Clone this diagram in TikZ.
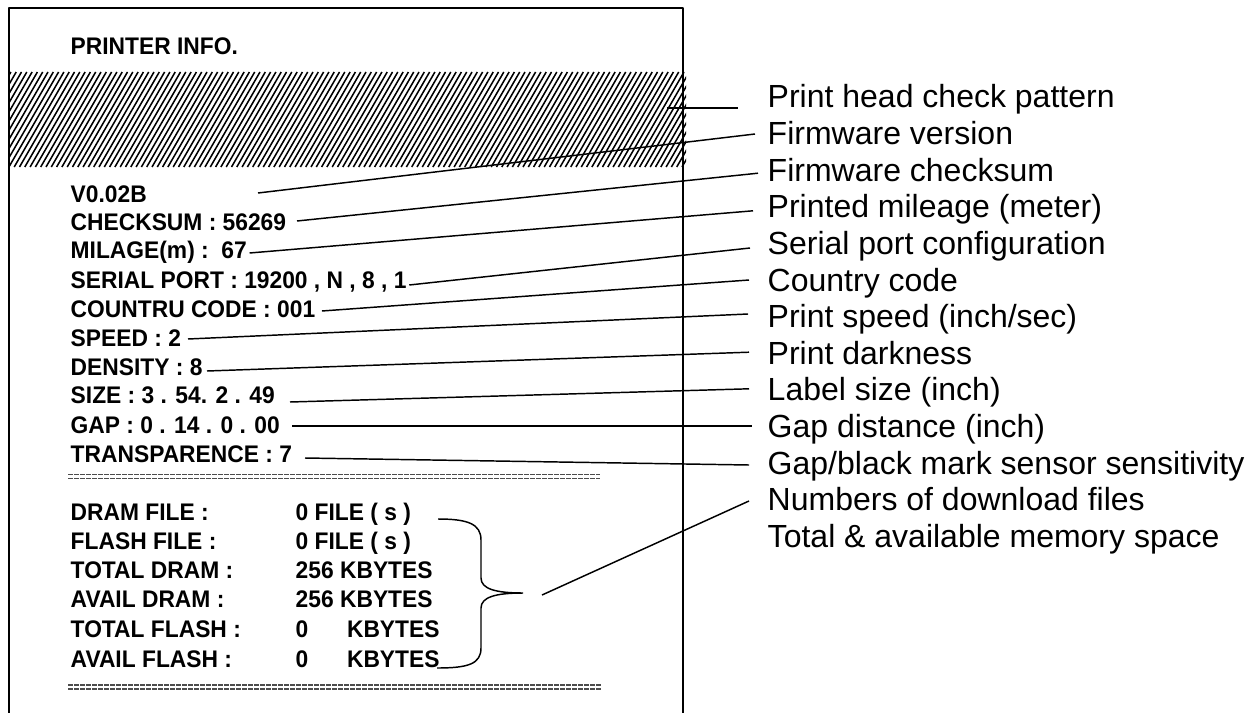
\documentclass[tikz,border=0pt]{standalone}
\usepackage{fontspec}
\setmainfont{Liberation Sans}
\newfontfamily\prtfont{Liberation Sans}[FakeStretch=0.95]
\usetikzlibrary{calc}
\tikzset{
  prt/.style={font=\prtfont\bfseries\fontsize{18pt}{20pt}\selectfont,inner sep=0pt,anchor=base west},
  note/.style={font=\fontsize{24pt}{26pt}\selectfont,inner sep=0pt,anchor=base west},
  sepline/.style={line width=0.8pt,black!70,dash pattern=on 3.6pt off 0.9pt},
  hatchline/.style={line width=1.15pt},
}
\begin{document}
\begin{tikzpicture}[x=0.75pt,y=-0.75pt,line join=bevel,]
  \pgfsetlinewidth{1.1pt}
  \useasboundingbox (0,0) rectangle (1255,713);
%%
\pgfsetcolor{black}
  % Node: paper
  \draw [line width=1.2pt] (9,713) -- (9,8) -- (683,8) -- (683,713);
  \node [prt] (title) at (70,55) {PRINTER INFO.};
  % Node: pattern
\begin{scope}
  \clip (10,72) rectangle (686,167);
  \foreach \hx in {-60,-54.7,...,690}
    \draw [hatchline] (\hx,167) -- ++(55,-95);
\end{scope}
  \coordinate (pat) at (667,108);
  % Node: settings
  \node [prt] (ver) at (70,202) {V0.02B};
  \node [prt] (chk) at (70,230) {CHECKSUM : 56269};
  \node [prt] (mil) at (70,258) {MILAGE(m) :\ \ 67};
  \node [prt] (ser) at (70,288) {SERIAL PORT : 19200\ , N\ , 8\ , 1};
  \node [prt] (cty) at (70,317) {COUNTRU CODE : 001};
  \node [prt] (spd) at (70,346) {SPEED : 2};
  \node [prt] (den) at (70,375) {DENSITY : 8};
  \node [prt] (siz) at (70,403) {SIZE : 3 . 54. 2 . 49};
  \node [prt] (gap) at (70,433) {GAP : 0 . 14 . 0 . 00};
  \node [prt] (trn) at (70,462) {TRANSPARENCE : 7};
  \draw [sepline] (68,474.5) -- (600,474.5);
  \draw [sepline] (68,478.5) -- (600,478.5);
  % Node: memory
  \node [prt] (dramf) at (70,520) {DRAM FILE :};
  \node [prt] (flashf) at (70,549) {FLASH FILE :};
  \node [prt] (totd) at (70,578) {TOTAL DRAM :};
  \node [prt] (avld) at (70,607) {AVAIL DRAM :};
  \node [prt] (totf) at (70,637) {TOTAL FLASH :};
  \node [prt] (avlf) at (70,667) {AVAIL FLASH :};
  \node [prt] (dramfv) at (295,520) {0 FILE ( s )};
  \node [prt] (flashfv) at (295,549) {0 FILE ( s )};
  \node [prt] (totdv) at (295,578) {256 KBYTES};
  \node [prt] (avldv) at (295,607) {256 KBYTES};
  \node [prt] (totfv) at (295,637) {0\hspace{29pt}KBYTES};
  \node [prt] (avlfv) at (295,667) {0\hspace{29pt}KBYTES};
  \draw [sepline] (68,685) -- (601,685);
  \draw [sepline] (68,689) -- (601,689);
  % brace
  \draw (438,519) .. controls (468,519) and (481,524) .. (481,540) -- (481,578)
    .. controls (481,589) and (496,593) .. (523,593)
    .. controls (496,593) and (481,597) .. (481,608) -- (481,648)
    .. controls (481,664) and (468,668) .. (437,668);
  \coordinate (mem) at (542,595);
  % Node: notes
  \node [note] (npat) at (767,108) {Print head check pattern};
  \node [note] (nver) at (767,144.6) {Firmware version};
  \node [note] (nchk) at (767,181.2) {Firmware checksum};
  \node [note] (nmil) at (767,217.8) {Printed mileage (meter)};
  \node [note] (nser) at (767,254.4) {Serial port configuration};
  \node [note] (ncty) at (767,291) {Country code};
  \node [note] (nspd) at (767,327.6) {Print speed (inch/sec)};
  \node [note] (nden) at (767,364.2) {Print darkness};
  \node [note] (nsiz) at (767,400.8) {Label size (inch)};
  \node [note] (ngap) at (767,437.4) {Gap distance (inch)};
  \node [note] (ntrn) at (767,474) {Gap/black mark sensor sensitivity};
  \node [note] (nmem) at (767,510.6) {Numbers of download files};
  \node [note] (nmem2) at (767,547.2) {Total \& available memory space};
  % Edge: pattern -> npat
  \draw (pat) -- ($(npat.base west)+(-29,0)$);
  % Edge: ver -> nver
  \coordinate (ever) at (258,193);
  \draw (ever) -- ($(nver.base west)+(-12,-10.6)$);
  % Edge: chk -> nchk
  \coordinate (echk) at (297,221);
  \draw (echk) -- ($(nchk.base west)+(-9,-8)$);
  % Edge: mil -> nmil
  \coordinate (emil) at ($(mil.base east)+(2,-5)$);
  \draw (emil) -- ($(nmil.base west)+(-14,-7)$);
  % Edge: ser -> nser
  \coordinate (eser) at ($(ser.base east)+(2,-3)$);
  \draw (eser) -- ($(nser.base west)+(-17,-6.4)$);
  % Edge: cty -> ncty
  \coordinate (ecty) at ($(cty.base east)+(6,-6)$);
  \draw (ecty) -- ($(ncty.base west)+(-18,-11)$);
  % Edge: spd -> nspd
  \coordinate (espd) at (188,339);
  \draw (espd) -- ($(nspd.base west)+(-19,-13.6)$);
  % Edge: den -> nden
  \coordinate (eden) at (207,371);
  \draw (eden) -- ($(nden.base west)+(-18,-12)$);
  % Edge: siz -> nsiz
  \coordinate (esiz) at (290,402);
  \draw (esiz) -- ($(nsiz.base west)+(-18,-12)$);
  % Edge: gap -> ngap
  \coordinate (egap) at (292,426);
  \draw (egap) -- ($(ngap.base west)+(-15,-11.4)$);
  % Edge: trn -> ntrn
  \coordinate (etrn) at (305,458);
  \draw (etrn) -- ($(ntrn.base west)+(-18,-9)$);
  % Edge: mem -> nmem
  \draw (mem) -- ($(nmem.base west)+(-18,-9.6)$);
%
\end{tikzpicture}
\end{document}
